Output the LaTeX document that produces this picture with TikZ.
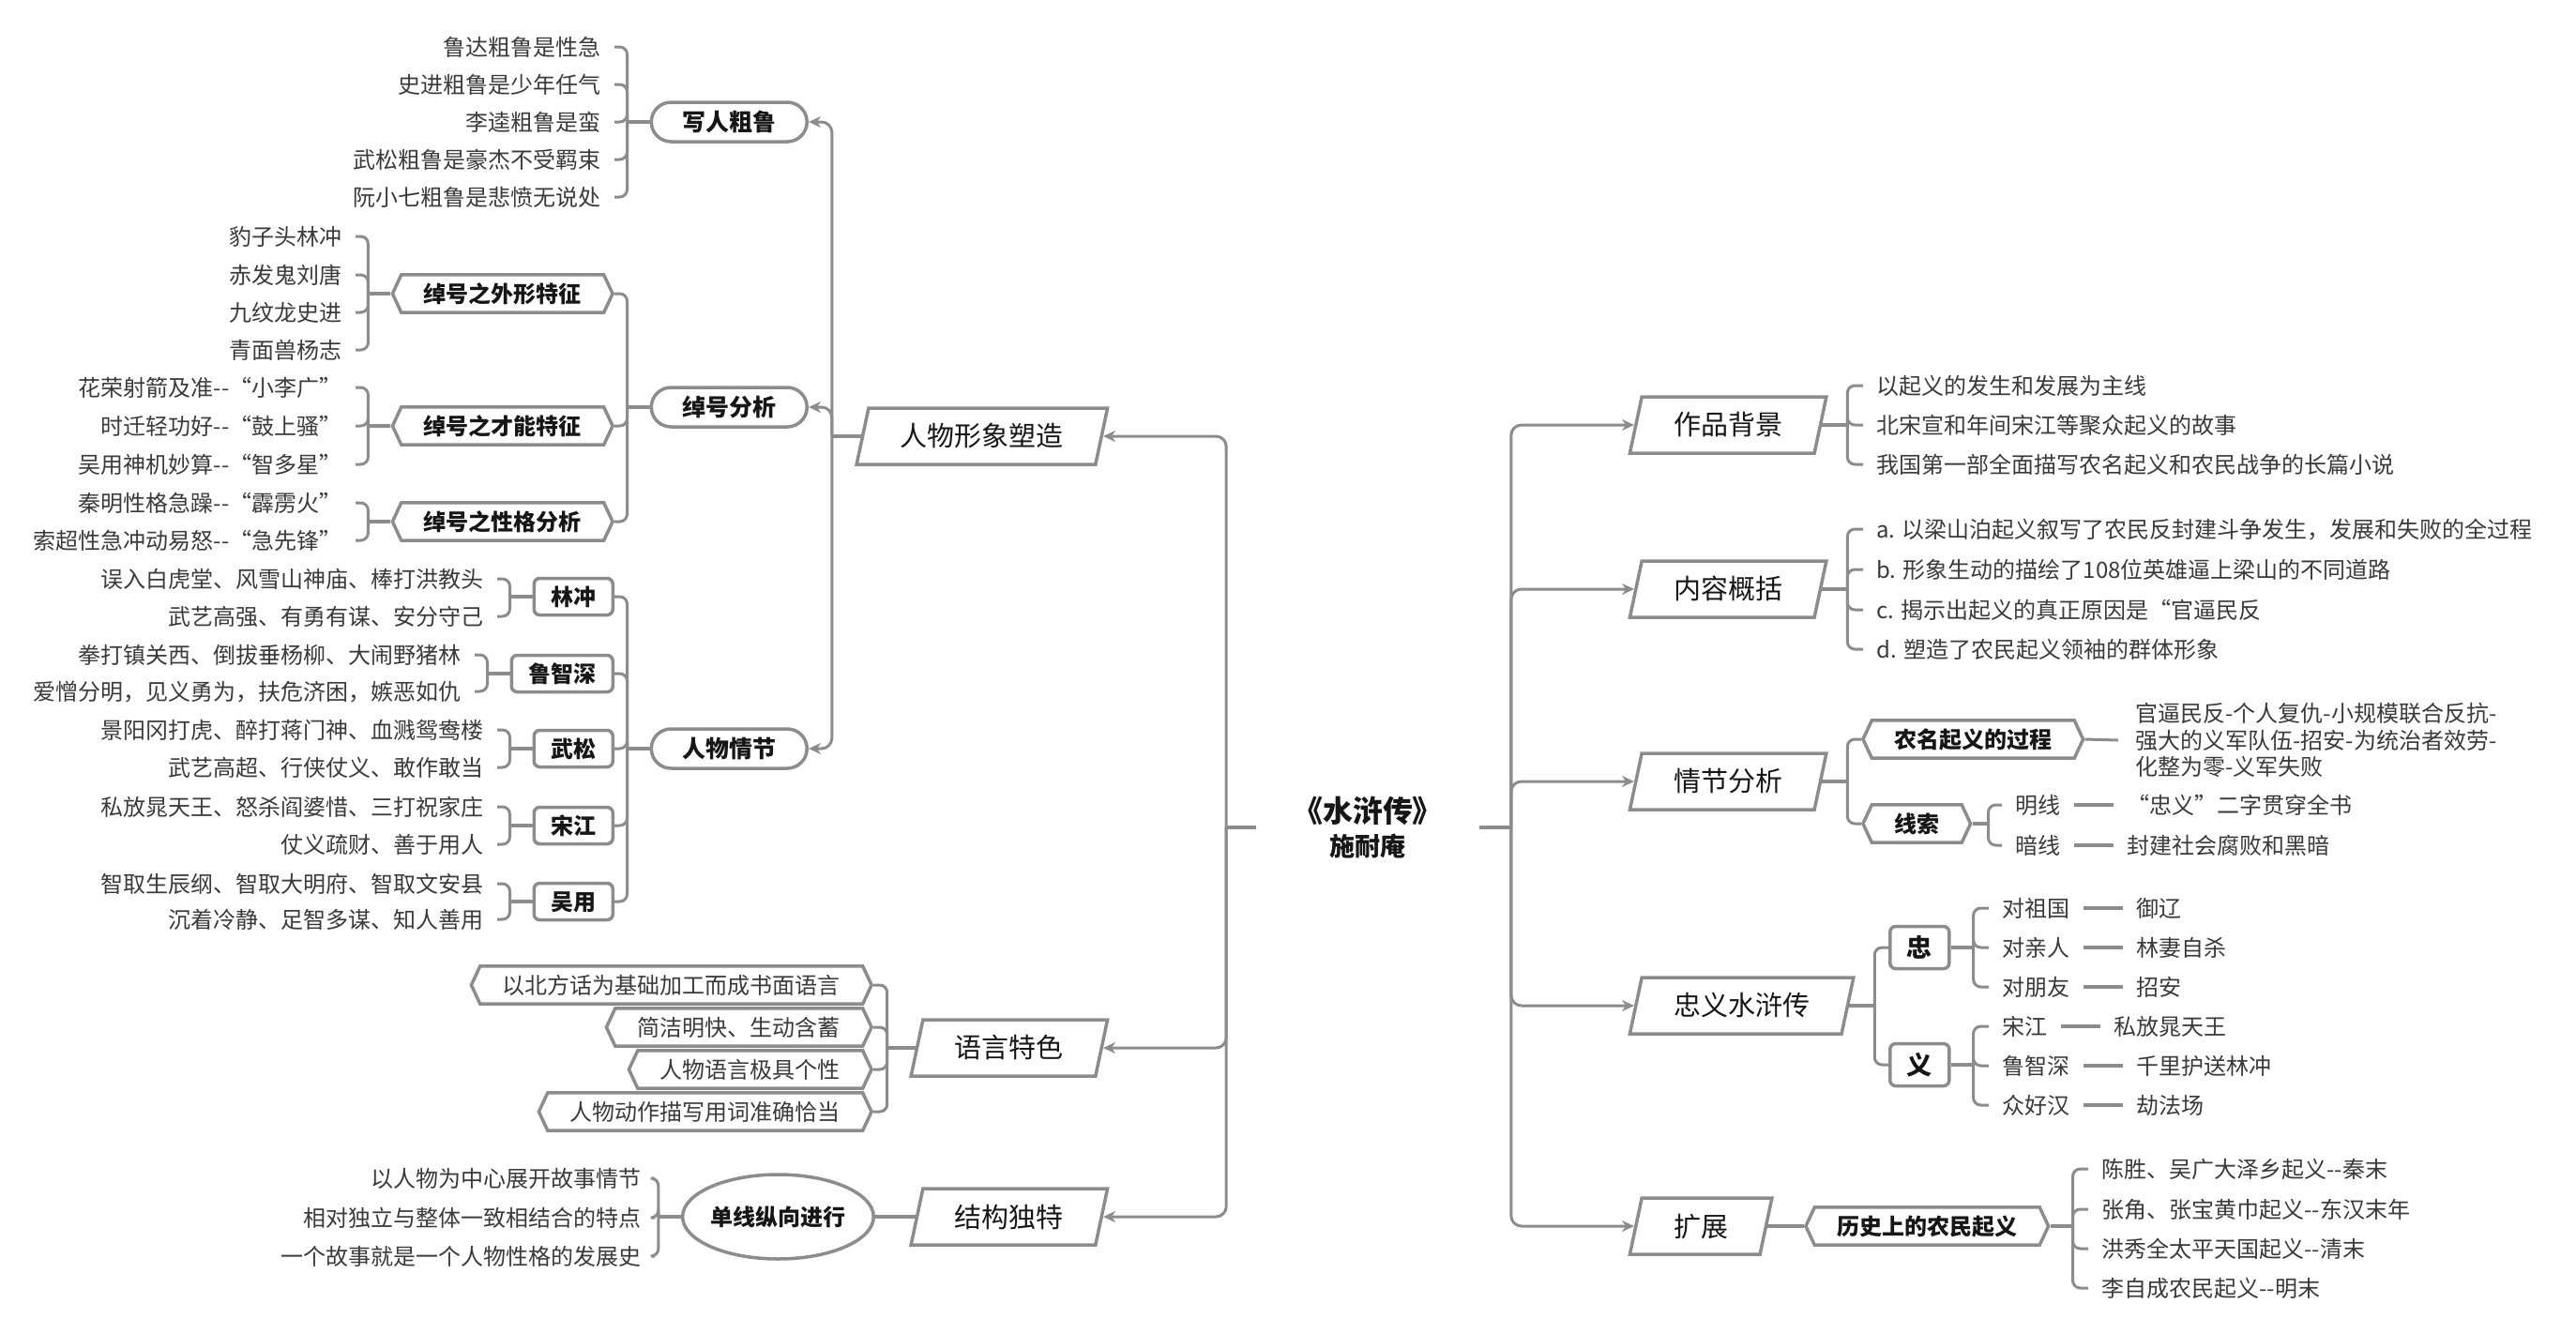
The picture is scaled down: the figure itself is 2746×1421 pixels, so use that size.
\documentclass[tikz,border=0pt]{standalone}
\usepackage{fontspec}
\setmainfont{Noto Sans CJK SC}
\usetikzlibrary{shapes.geometric,shapes.symbols,arrows.meta,positioning}
\definecolor{linegray}{RGB}{140,140,140}
\definecolor{leafgray}{RGB}{58,58,58}
\definecolor{headblack}{RGB}{22,22,22}
\newcommand{\fsleaf}{\fontsize{13.66}{16.2}\selectfont}
\newcommand{\fsone}{\fontsize{16.5}{19}\selectfont}
\newcommand{\fstwo}{\fontsize{14.2}{17}\selectfont\bfseries}
\newcommand{\fsbox}{\fontsize{13.66}{16}\selectfont\bfseries}

\begin{document}
\begin{tikzpicture}
  [x=0.02cm,y=-0.02cm,every node/.style={text=headblack},
   link/.style={draw=linegray,line width=0.06cm,rounded corners=0.16cm},
   stub/.style={draw=linegray,line width=0.09cm},
   pairline/.style={draw=linegray,line width=0.08cm},
   arrowlink/.style={link,rounded corners=0.22cm,-{Stealth[length=0.26cm,width=0.24cm]}},
   leaf/.style={text=leafgray,font=\fsleaf,inner xsep=0.28cm,inner ysep=0.04cm,text height=12pt,text depth=1.7pt},
   note/.style={text=leafgray,font=\fsleaf,inner xsep=0.36cm,inner ysep=0.04cm,align=left}]
  \tikzstyle{lvone} = [trapezium,trapezium left angle=78,trapezium right angle=102,draw=linegray,line width=0.07cm,fill=white,
                       inner xsep=0.68cm,inner ysep=0.31cm,text height=14.5pt,text depth=2pt,font=\fsone]
  \tikzstyle{lvtwo} = [rectangle,rounded corners=0.42cm,draw=linegray,line width=0.07cm,minimum width=3.32cm,minimum height=0.84cm,
                       text height=12.5pt,text depth=1.7pt,font=\fstwo]
  \tikzstyle{hexbox} = [signal,signal to=east and west,signal pointer angle=130,draw=linegray,line width=0.07cm,
                        inner xsep=0.48cm,inner ysep=0.16cm,text height=12pt,text depth=1.7pt,font=\fsbox]
  \tikzstyle{person} = [rectangle,rounded corners=0.12cm,draw=linegray,line width=0.07cm,inner xsep=0.36cm,
                        minimum height=0.78cm,text height=12pt,text depth=1.7pt,font=\fsbox]
  \useasboundingbox (0,0) rectangle (2746,1421);
  \fill[white] (0,0) rectangle (2746,1421);

  % centre
  \node[align=center,minimum width=4.74cm,inner sep=0pt,font=\fontsize{15.4}{20.5}\selectfont\bfseries] (root) at (1458,882)
    {{\fontsize{18.2}{20.5}\selectfont 《水浒传》}\\施耐庵};

  % left side
  \node[lvone,anchor=east] (xx) at (1176,465)  {人物形象塑造};
  \node[lvone,anchor=east] (yy) at (1176,1117) {语言特色};
  \node[lvone,anchor=east] (jg) at (1176,1297) {结构独特};

  \node[lvtwo,anchor=east] (cl) at (862,130) {写人粗鲁};
  \node[lvtwo,anchor=east] (ch) at (862,434) {绰号分析};
  \node[lvtwo,anchor=east] (rw) at (862,798) {人物情节};

  \node[leaf,anchor=east] (cl1) at (655,50)  {鲁达粗鲁是性急};
  \node[leaf,anchor=east] (cl2) at (655,90)  {史进粗鲁是少年任气};
  \node[leaf,anchor=east] (cl3) at (655,130) {李逵粗鲁是蛮};
  \node[leaf,anchor=east] (cl4) at (655,170) {武松粗鲁是豪杰不受羁束};
  \node[leaf,anchor=east] (cl5) at (655,210) {阮小七粗鲁是悲愤无说处};

  \node[hexbox,anchor=east] (ch1) at (655,313) {绰号之外形特征};
  \node[hexbox,anchor=east] (ch2) at (655,454) {绰号之才能特征};
  \node[hexbox,anchor=east] (ch3) at (655,556) {绰号之性格分析};

  \node[leaf,anchor=east] (wx1) at (379,252) {豹子头林冲};
  \node[leaf,anchor=east] (wx2) at (379,293) {赤发鬼刘唐};
  \node[leaf,anchor=east] (wx3) at (379,333) {九纹龙史进};
  \node[leaf,anchor=east] (wx4) at (379,373) {青面兽杨志};
  \node[leaf,anchor=east] (cn1) at (379,413) {花荣射箭及准-{}-“小李广”};
  \node[leaf,anchor=east] (cn2) at (379,454) {时迁轻功好-{}-“鼓上骚”};
  \node[leaf,anchor=east] (cn3) at (379,495) {吴用神机妙算-{}-“智多星”};
  \node[leaf,anchor=east] (xg1) at (379,536) {秦明性格急躁-{}-“霹雳火”};
  \node[leaf,anchor=east] (xg2) at (379,576) {索超性急冲动易怒-{}-“急先锋”};

  \node[person,anchor=east] (lc) at (655,636) {林冲};
  \node[person,anchor=east] (lz) at (655,718) {鲁智深};
  \node[person,anchor=east] (ws) at (655,798) {武松};
  \node[person,anchor=east] (sj) at (655,880) {宋江};
  \node[person,anchor=east] (wy) at (655,961) {吴用};

  \node[leaf,anchor=east] (lc1) at (530,617) {误入白虎堂、风雪山神庙、棒打洪教头};
  \node[leaf,anchor=east] (lc2) at (530,657) {武艺高强、有勇有谋、安分守己};
  \node[leaf,anchor=east] (lz1) at (506,698) {拳打镇关西、倒拔垂杨柳、大闹野猪林};
  \node[leaf,anchor=east] (lz2) at (506,737) {爱憎分明，见义勇为，扶危济困，嫉恶如仇};
  \node[leaf,anchor=east] (ws1) at (530,778) {景阳冈打虎、醉打蒋门神、血溅鸳鸯楼};
  \node[leaf,anchor=east] (ws2) at (530,818) {武艺高超、行侠仗义、敢作敢当};
  \node[leaf,anchor=east] (sj1) at (530,860) {私放晁天王、怒杀阎婆惜、三打祝家庄};
  \node[leaf,anchor=east] (sj2) at (530,900) {仗义疏财、善于用人};
  \node[leaf,anchor=east] (wy1) at (530,942) {智取生辰纲、智取大明府、智取文安县};
  \node[leaf,anchor=east] (wy2) at (530,980) {沉着冷静、足智多谋、知人善用};

  \node[hexbox,anchor=east,font=\fsleaf,text=leafgray] (yy1) at (931,1050) {以北方话为基础加工而成书面语言};
  \node[hexbox,anchor=east,font=\fsleaf,text=leafgray] (yy2) at (931,1095) {简洁明快、生动含蓄};
  \node[hexbox,anchor=east,font=\fsleaf,text=leafgray] (yy3) at (931,1140) {人物语言极具个性};
  \node[hexbox,anchor=east,font=\fsleaf,text=leafgray] (yy4) at (931,1185) {人物动作描写用词准确恰当};

  \node[ellipse,draw=linegray,line width=0.07cm,minimum width=3.84cm,minimum height=1.8cm,inner sep=0pt,
        text height=12pt,text depth=1.7pt,font=\fsbox,anchor=east] (dx) at (933,1297) {单线纵向进行};
  \node[leaf,anchor=east] (dx1) at (698,1256) {以人物为中心展开故事情节};
  \node[leaf,anchor=east] (dx2) at (698,1298) {相对独立与整体一致相结合的特点};
  \node[leaf,anchor=east] (dx3) at (698,1339) {一个故事就是一个人物性格的发展史};

  % right side
  \node[lvone,anchor=west] (bj) at (1742,453)  {作品背景};
  \node[lvone,anchor=west] (gk) at (1742,628)  {内容概括};
  \node[lvone,anchor=west] (qj) at (1742,833)  {情节分析};
  \node[lvone,anchor=west] (zy) at (1742,1072) {忠义水浒传};
  \node[lvone,anchor=west] (kz) at (1742,1307) {扩展};

  \node[leaf,anchor=west] (bj1) at (1986,411) {以起义的发生和发展为主线};
  \node[leaf,anchor=west] (bj2) at (1986,453) {北宋宣和年间宋江等聚众起义的故事};
  \node[leaf,anchor=west] (bj3) at (1986,495) {我国第一部全面描写农名起义和农民战争的长篇小说};

  \node[leaf,anchor=west] (gk1) at (1986,564) {a. 以梁山泊起义叙写了农民反封建斗争发生，发展和失败的全过程};
  \node[leaf,anchor=west] (gk2) at (1986,607) {b. 形象生动的描绘了108位英雄逼上梁山的不同道路};
  \node[leaf,anchor=west] (gk3) at (1986,650) {c. 揭示出起义的真正原因是“官逼民反};
  \node[leaf,anchor=west] (gk4) at (1986,692) {d. 塑造了农民起义领袖的群体形象};

  \node[hexbox,anchor=west] (gc) at (1984,788) {农名起义的过程};
  \node[note,anchor=west] (gcv) at (2258,789) {官逼民反-个人复仇-小规模联合反抗-\\强大的义军队伍-招安-为统治者效劳-\\化整为零-义军失败};
  \node[hexbox,anchor=west] (xs) at (1984,878) {线索};
  \node[leaf,anchor=west] (ml) at (2134,858) {明线};
  \node[leaf,anchor=west] (al) at (2134,901) {暗线};
  \node[leaf,right=0.84cm of ml] (ml-v) {“忠义”二字贯穿全书};
  \node[leaf,right=0.84cm of al] (al-v) {封建社会腐败和黑暗};

  \node[person,anchor=west,minimum height=0.9cm,font=\fontsize{15.4}{18}\selectfont\bfseries,text height=13.5pt,text depth=1.9pt] (zh) at (2013,1010) {忠};
  \node[person,anchor=west,minimum height=0.9cm,font=\fontsize{15.4}{18}\selectfont\bfseries,text height=13.5pt,text depth=1.9pt] (yi) at (2013,1135) {义};
  \node[leaf,anchor=west] (z1) at (2120,968)  {对祖国};
  \node[leaf,anchor=west] (z2) at (2120,1010) {对亲人};
  \node[leaf,anchor=west] (z3) at (2120,1052) {对朋友};
  \node[leaf,anchor=west] (y1) at (2120,1094) {宋江};
  \node[leaf,anchor=west] (y2) at (2120,1136) {鲁智深};
  \node[leaf,anchor=west] (y3) at (2120,1178) {众好汉};
  \node[leaf,right=0.84cm of z1] (z1-v) {御辽};
  \node[leaf,right=0.84cm of z2] (z2-v) {林妻自杀};
  \node[leaf,right=0.84cm of z3] (z3-v) {招安};
  \node[leaf,right=0.84cm of y1] (y1-v) {私放晁天王};
  \node[leaf,right=0.84cm of y2] (y2-v) {千里护送林冲};
  \node[leaf,right=0.84cm of y3] (y3-v) {劫法场};

  \node[hexbox,anchor=west] (ls) at (1923,1307) {历史上的农民起义};
  \node[leaf,anchor=west] (ls1) at (2226,1246) {陈胜、吴广大泽乡起义-{}-秦末};
  \node[leaf,anchor=west] (ls2) at (2226,1289) {张角、张宝黄巾起义-{}-东汉末年};
  \node[leaf,anchor=west] (ls3) at (2226,1331) {洪秀全太平天国起义-{}-清末};
  \node[leaf,anchor=west] (ls4) at (2226,1373) {李自成农民起义-{}-明末};

  % trunk
  \draw[stub] (root.west) -- ++(-32,0);
  \draw[stub] (root.east) -- ++(34,0);
  \foreach \dest in {xx,yy,jg} \draw[arrowlink] (root.west) ++(-32,0) |- (\dest.east);
  \foreach \dest in {bj,gk,qj,zy,kz} \draw[arrowlink] (root.east) ++(34,0) |- (\dest.west);
  \draw[stub] (xx.west) -- ++(-31,0);
  \foreach \dest in {cl,ch,rw} \draw[arrowlink] (xx.west) ++(-31,0) |- (\dest.east);

  % brackets, left
  \foreach \source in {cl,ch,rw,ch1,ch2,ch3,lc,lz,ws,sj,wy,dx} \draw[stub] (\source.west) -- ++(-24,0);
  \foreach \source/\dest in {cl/cl1,cl/cl2,cl/cl3,cl/cl4,cl/cl5,ch/ch1,ch/ch2,ch/ch3,
      ch1/wx1,ch1/wx2,ch1/wx3,ch1/wx4,ch2/cn1,ch2/cn2,ch2/cn3,ch3/xg1,ch3/xg2,
      rw/lc,rw/lz,rw/ws,rw/sj,rw/wy,lc/lc1,lc/lc2,lz/lz1,lz/lz2,ws/ws1,ws/ws2,sj/sj1,sj/sj2,wy/wy1,wy/wy2,
      dx/dx1,dx/dx2,dx/dx3}
    \draw[link] (\source.west) ++(-24,0) |- (\dest.east);
  \draw[stub] (yy.west) -- ++(-30,0);
  \foreach \dest in {yy1,yy2,yy3,yy4} \draw[link] (yy.west) ++(-30,0) |- (\dest.east);
  \draw[stub] (jg.west) -- (dx.east);

  % brackets, right
  \foreach \source in {bj,gk,qj,zy} \draw[stub] (\source.east) -- ++(27,0);
  \foreach \source in {zh,yi,ls} \draw[stub] (\source.east) -- ++(24,0);
  \draw[stub] (xs.east) -- ++(17,0);
  \foreach \source/\dest in {bj/bj1,bj/bj2,bj/bj3,gk/gk1,gk/gk2,gk/gk3,gk/gk4,qj/gc,qj/xs,zy/zh,zy/yi}
    \draw[link] (\source.east) ++(27,0) |- (\dest.west);
  \foreach \source/\dest in {zh/z1,zh/z2,zh/z3,yi/y1,yi/y2,yi/y3,ls/ls1,ls/ls2,ls/ls3,ls/ls4}
    \draw[link] (\source.east) ++(24,0) |- (\dest.west);
  \foreach \dest in {ml,al} \draw[link] (xs.east) ++(17,0) |- (\dest.west);
  \draw[stub] (kz.east) -- (ls.west);
  \draw[link] (gc.east) -- (gcv.west);
  \foreach \source in {ml,al,z1,z2,z3,y1,y2,y3} \draw[pairline] (\source.east) -- (\source-v.west);
\end{tikzpicture}
\end{document}
